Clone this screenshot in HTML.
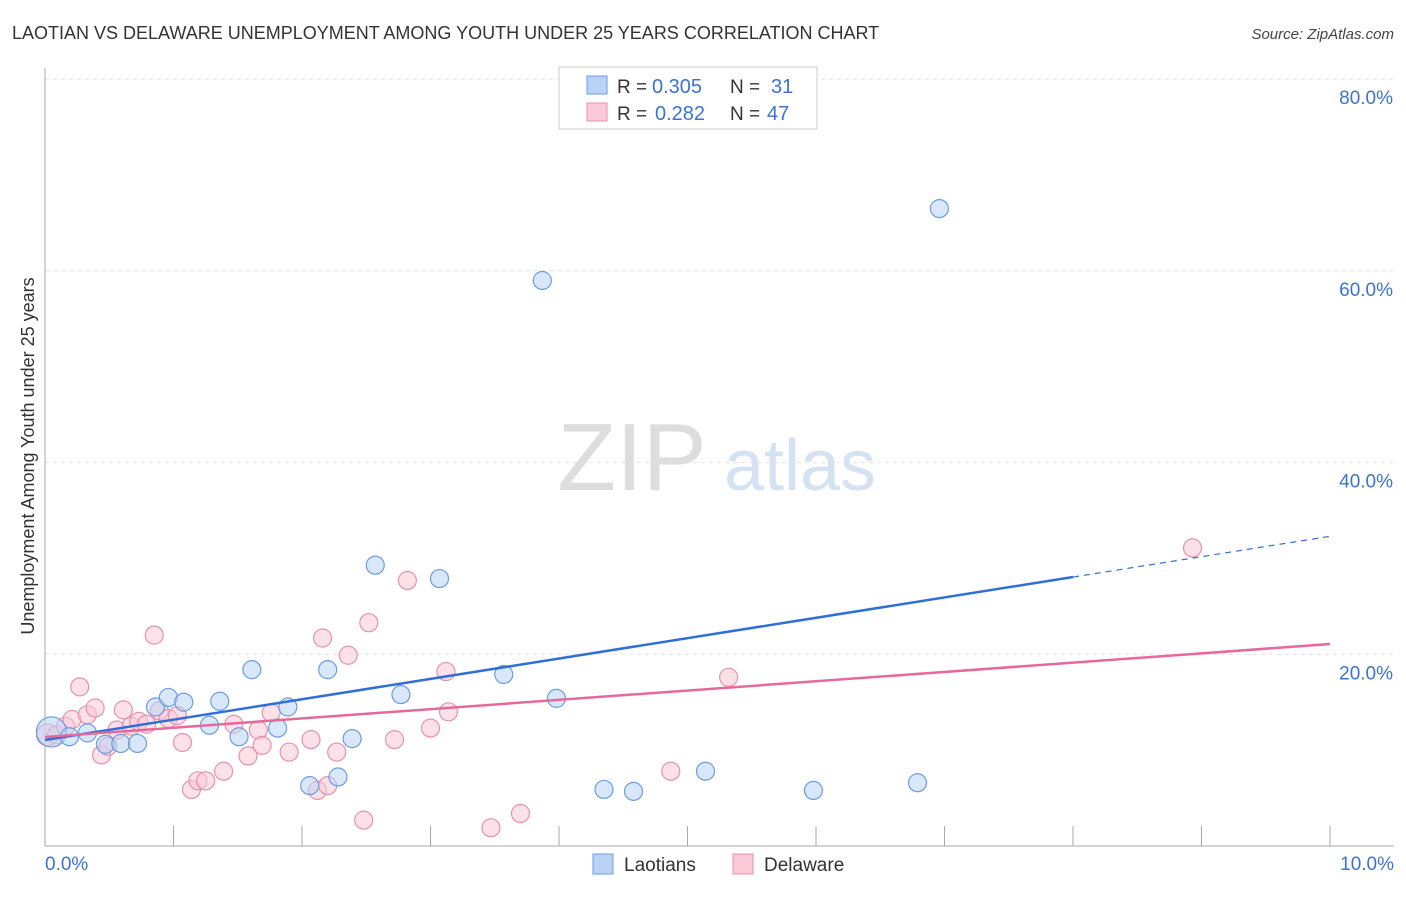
<!DOCTYPE html>
<html><head><meta charset="utf-8"><style>
body{margin:0;background:#fff;font-family:"Liberation Sans",sans-serif}
svg text{font-family:"Liberation Sans",sans-serif}
</style></head><body>
<svg id="chart" width="1406" height="892" xmlns="http://www.w3.org/2000/svg">
<text x="12" y="39" font-size="18" fill="#333">LAOTIAN VS DELAWARE UNEMPLOYMENT AMONG YOUTH UNDER 25 YEARS CORRELATION CHART</text>
<text x="1394" y="39" font-size="15" fill="#444" text-anchor="end" font-style="italic">Source: ZipAtlas.com</text>
<text x="632" y="490" font-size="96" fill="#ddd" font-family="Liberation Serif" text-anchor="middle">ZIP</text>
<text x="800" y="490" font-size="72" fill="#d4e2f4" text-anchor="middle">atlas</text>
<g id="grid"></g><g id="axes"></g><g id="marks"></g>
<text transform="translate(34,456) rotate(-90)" font-size="18" fill="#333" text-anchor="middle">Unemployment Among Youth under 25 years</text>
<g>
<rect x="559" y="67" width="258" height="62" fill="#fff" stroke="#ccc"/>
<rect x="587" y="76" width="20" height="18" fill="#b9d3f5" stroke="#6c9ce0"/>
<rect x="587" y="103" width="20" height="18" fill="#fbc9d7" stroke="#e891ad"/>
<text x="617" y="93" font-size="19" fill="#333">R =</text>
<text x="652" y="93" font-size="20" fill="#3b73d1">0.305</text>
<text x="730" y="93" font-size="19" fill="#333">N =</text>
<text x="771" y="93" font-size="20" fill="#3b73d1">31</text>
<text x="617" y="120" font-size="19" fill="#333">R =</text>
<text x="655" y="120" font-size="20" fill="#3b73d1">0.282</text>
<text x="730" y="120" font-size="19" fill="#333">N =</text>
<text x="767" y="120" font-size="20" fill="#3b73d1">47</text>
</g>
<g>
<rect x="593" y="854" width="20" height="20" fill="#b9d3f5" stroke="#6c9ce0"/>
<text x="624" y="871" font-size="19" fill="#333">Laotians</text>
<rect x="733" y="854" width="20" height="20" fill="#fbc9d7" stroke="#e891ad"/>
<text x="764" y="871" font-size="19" fill="#333">Delaware</text>
</g>
</svg>
<script>
const blueX=[0.05,0.19,0.33,0.47,0.59,0.72,0.86,0.96,1.08,1.28,1.36,1.51,1.61,1.81,1.89,2.06,2.20,2.28,2.39,2.57,2.77,3.07,3.57,3.87,3.98,4.35,4.58,5.14,5.98,6.79,6.96];
const blueY=[11.9,11.4,11.8,10.6,10.7,10.7,14.5,15.5,15.0,12.6,15.1,11.4,18.4,12.3,14.5,6.3,18.4,7.2,11.2,29.3,15.8,27.9,17.9,59.0,15.4,5.9,5.7,7.8,5.8,6.6,66.5];
const pinkX=[0.02,0.09,0.16,0.21,0.27,0.33,0.39,0.44,0.49,0.56,0.61,0.67,0.73,0.79,0.85,0.89,0.96,1.03,1.07,1.14,1.19,1.25,1.39,1.47,1.58,1.66,1.69,1.76,1.90,2.07,2.12,2.16,2.20,2.27,2.36,2.48,2.52,2.72,2.82,3.00,3.12,3.14,3.47,3.70,4.87,5.32,8.93];
const pinkY=[11.6,11.6,12.5,13.2,16.6,13.7,14.4,9.5,10.4,12.1,14.2,12.5,13.0,12.7,22.0,14.1,13.3,13.6,10.8,5.9,6.8,6.8,7.8,12.7,9.4,12.1,10.5,13.9,9.8,11.1,5.8,21.7,6.3,9.8,19.9,2.7,23.3,11.1,27.7,12.3,18.2,14.0,1.9,3.4,7.8,17.6,31.1];
const blueTrend=[11.06,2.125], pinkTrend=[11.37,0.97];
const yTicks=[20,40,60,80], xTickVals=[0,1,2,3,4,5,6,7,8,9,10];
const NS='http://www.w3.org/2000/svg';
const sx=v=>45+v*128.5, sy=v=>846-v*9.585;
function mk(t,a,p){const e=document.createElementNS(NS,t);for(const k in a)e.setAttribute(k,a[k]);p.appendChild(e);return e;}
const grid=document.getElementById('grid'),axes=document.getElementById('axes'),marks=document.getElementById('marks');
yTicks.forEach(v=>{
 const l=mk('line',{x1:45,x2:1394,y1:sy(v),y2:sy(v),stroke:'#e2e2e2','stroke-dasharray':'4,4'},grid);
 
 
 const t=mk('text',{x:1393,y:sy(v)+25,'font-size':19,fill:'#3b73d1','text-anchor':'end'},axes);t.textContent=v.toFixed(1)+'%';
 
 
});
const ax=mk('line',{x1:45,x2:45,y1:68,y2:846,stroke:'#aaa'},axes);


const bx=mk('line',{x1:45,x2:1394,y1:846,y2:846,stroke:'#aaa'},axes);


xTickVals.forEach(v=>{if(v>0){const l=mk('line',{x1:sx(v),x2:sx(v),y1:826,y2:846,stroke:'#aaa'},axes);
 
 }});
[[0,'0.0%','start',45],[10,'10.0%','end',1394]].forEach(d=>{const t=mk('text',{x:d[3],y:870,'font-size':19,fill:'#3b73d1','text-anchor':d[2]},axes);t.textContent=d[1];
 
 });
function pts(X,Y,fill,stroke,name,r0){X.forEach((x,i)=>{const r=i===0?r0:9;
 const c=mk('circle',{cx:sx(x),cy:sy(Y[i]),r:r,fill:fill,'fill-opacity':0.55,stroke:stroke,'stroke-width':1.2},marks);
 
 });}
pts(pinkX,pinkY,'#fbc9d7','#e891ad','delaware-point',11);
pts(blueX,blueY,'#b9d3f5','#6c9ce0','laotian-point',15);
let l=mk('line',{x1:sx(0),y1:sy(blueTrend[0]),x2:sx(8),y2:sy(blueTrend[0]+8*blueTrend[1]),stroke:'#2f6fd6','stroke-width':2.5},marks);


l=mk('line',{x1:sx(8),y1:sy(blueTrend[0]+8*blueTrend[1]),x2:sx(10),y2:sy(blueTrend[0]+10*blueTrend[1]),stroke:'#2f6fd6','stroke-width':1.2,'stroke-dasharray':'6,5'},marks);


l=mk('line',{x1:sx(0),y1:sy(pinkTrend[0]),x2:sx(10),y2:sy(pinkTrend[0]+10*pinkTrend[1]),stroke:'#e5699a','stroke-width':2.5},marks);


</script>
</body></html>
